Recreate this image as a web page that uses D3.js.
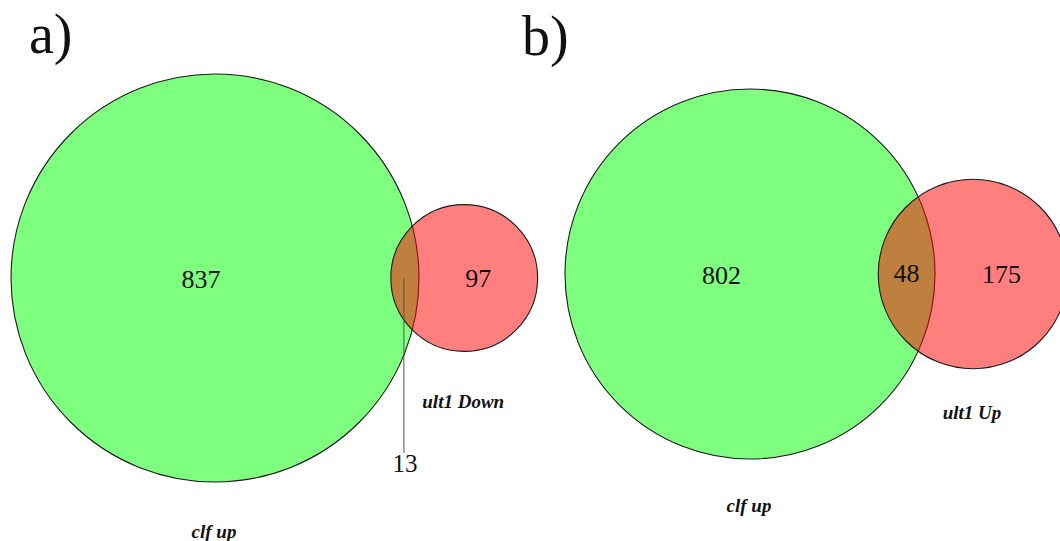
<!DOCTYPE html>
<html>
<head>
<meta charset="utf-8">
<script src="https://cdn.jsdelivr.net/npm/d3@7/dist/d3.min.js"></script>
</head>
<body style="margin:0">
<svg id="venn" width="1060" height="541"></svg>
<script>
// Two area-proportional Venn diagrams (gene sets)
const panelLabels = ["a)", "b)"];
const setLeftNames = ["clf up", "clf up"];
const setRightNames = ["ult1 Down", "ult1 Up"];
const leftOnly = [837, 802];
const rightOnly = [97, 175];
const shared = [13, 48];

// layout of each panel: left edge of the large circle, vertical centre, largest radius
const panelLeft = [11, 565];
const panelCy = [278, 274];
const panelMaxR = [204, 185];
const titlePos = [[29, 53], [522, 55]];

const svg = d3.select("#venn");

// area of the lens shared by two circles whose centres are d apart
function lensArea(r1, r2, d) {
  if (d >= r1 + r2) return 0;
  if (d <= Math.abs(r1 - r2)) return Math.PI * Math.min(r1, r2) ** 2;
  const a1 = Math.acos((d * d + r1 * r1 - r2 * r2) / (2 * d * r1));
  const a2 = Math.acos((d * d + r2 * r2 - r1 * r1) / (2 * d * r2));
  return r1 * r1 * (a1 - Math.sin(2 * a1) / 2) + r2 * r2 * (a2 - Math.sin(2 * a2) / 2);
}

// centre distance giving the requested overlap area (bisection)
function solveDistance(r1, r2, target) {
  let lo = Math.abs(r1 - r2), hi = r1 + r2;
  for (let i = 0; i < 80; i++) {
    const mid = (lo + hi) / 2;
    if (lensArea(r1, r2, mid) > target) lo = mid; else hi = mid;
  }
  return (lo + hi) / 2;
}

function label(g, x, y, size, txt, weight, italic) {
  return g.append("text")
    .attr("x", x).attr("y", y)
    .attr("text-anchor", "middle")
    .attr("font-size", size)
    .style("font-family", "'Liberation Serif'")
    .style("font-weight", weight || "normal")
    .style("font-style", italic ? "italic" : "normal")
    .attr("fill", "#111")
    .text(txt);
}

panelLabels.forEach((title, i) => {
  const totalL = leftOnly[i] + shared[i];
  const totalR = rightOnly[i] + shared[i];
  const r = d3.scaleSqrt().domain([0, Math.max(totalL, totalR)]).range([0, panelMaxR[i]]);
  const rL = r(totalL), rR = r(totalR);
  const pxPerUnit = Math.PI * rL * rL / totalL;
  const d = solveDistance(rL, rR, shared[i] * pxPerUnit);

  const x = d3.scaleLinear().domain([0, 1]).range([panelLeft[i], panelLeft[i] + 1]);
  const cxL = x(rL), cxR = x(rL + d), cy = panelCy[i];

  svg.append("circle")
    .attr("cx", cxL).attr("cy", cy).attr("r", rL)
    .attr("fill", "rgba(0,255,0,0.5)")
    .attr("stroke", "#1a1a1a").attr("stroke-width", 1.1);
  svg.append("circle")
    .attr("cx", cxR).attr("cy", cy).attr("r", rR)
    .attr("fill", "rgba(255,0,0,0.5)")
    .attr("stroke", "#1a1a1a").attr("stroke-width", 1.1);

  const leftEdgeL = cxL - rL, rightEdgeL = cxL + rL;
  const leftEdgeR = cxR - rR, rightEdgeR = cxR + rR;

  // region counts
  label(svg, (leftEdgeL + leftEdgeR) / 2, cy + 10, 26, leftOnly[i]);
  label(svg, (rightEdgeL + rightEdgeR) / 2, cy + 9, 26, rightOnly[i]);

  const midX = (leftEdgeR + rightEdgeL) / 2;
  if (rightEdgeL - leftEdgeR < 40) {
    // narrow overlap: label placed below with a leader line
    svg.append("line")
      .attr("x1", midX - 1).attr("x2", midX - 1)
      .attr("y1", cy).attr("y2", cy + 175)
      .attr("stroke", "#555").attr("stroke-width", 1);
    label(svg, midX, cy + 194, 25, shared[i]);
  } else {
    label(svg, midX, cy + 8, 26, shared[i]);
  }

  // set names
  const nameOffsetL = i === 0 ? 56 : 53;
  const nameOffsetR = i === 0 ? 57 : 50;
  label(svg, cxL - 1, cy + rL + nameOffsetL, 19, setLeftNames[i], "bold", true);
  label(svg, cxR - 1, cy + rR + nameOffsetR, 19, setRightNames[i], "bold", true);

  // panel letter
  label(svg, titlePos[i][0], titlePos[i][1], 56, title).attr("text-anchor", "start");
});
</script>
</body>
</html>
